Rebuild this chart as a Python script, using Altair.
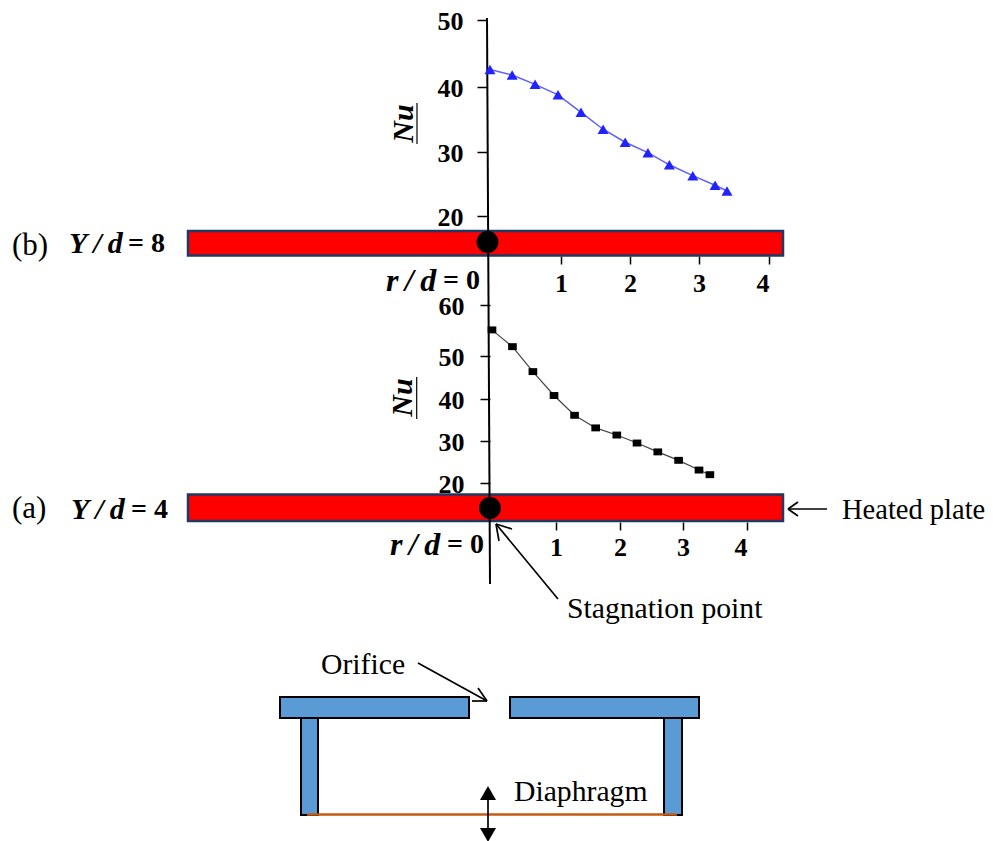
import altair as alt
import pandas as pd

# ---------- measured values ----------
rd_b = [0.04, 0.34, 0.65, 0.96, 1.29, 1.61, 1.93, 2.26, 2.57, 2.91, 3.23, 3.40]
nu_b = [42.6, 41.8, 40.4, 38.8, 36.1, 33.5, 31.5, 29.9, 28.0, 26.3, 24.8, 23.9]
rd_a = [0.03, 0.34, 0.65, 0.97, 1.29, 1.62, 1.95, 2.27, 2.60, 2.93, 3.25, 3.42]
nu_a = [55.1, 51.8, 46.3, 40.7, 36.0, 33.0, 31.3, 29.4, 27.3, 25.3, 23.0, 21.9]
ticks_x = [1, 2, 3, 4]
ticks_yb = [20, 30, 40, 50]
ticks_ya = [20, 30, 40, 50, 60]

W, H = 977, 833
SERIF = "Liberation Serif"
CX = alt.Scale(domain=[8, 8 + W], range=[0, W])
CY = alt.Scale(domain=[8, 8 + H], range=[0, H])
THIN = "\u2009"


def cx(f="x"):
    return alt.X(f"{f}:Q", scale=CX, axis=None)


def cy(f="y"):
    return alt.Y(f"{f}:Q", scale=CY, axis=None)


def boxes(rows, fill, stroke, sw):
    df = pd.DataFrame(rows, columns=["x", "x2", "y", "y2"])
    return alt.Chart(df).mark_rect(fill=fill, stroke=stroke, strokeWidth=sw).encode(
        x=cx(), x2="x2:Q", y=cy(), y2="y2:Q")


def segs(rows, color="black", sw=1.5):
    df = pd.DataFrame(rows, columns=["x", "y", "x2", "y2"])
    return alt.Chart(df).mark_rule(color=color, strokeWidth=sw).encode(
        x=cx(), x2="x2:Q", y=cy(), y2="y2:Q")


def labels(rows, size, weight="normal", style="normal"):
    df = pd.DataFrame(rows, columns=["t", "x", "y"])
    return alt.Chart(df).mark_text(font=SERIF, fontSize=size, fontWeight=weight, fontStyle=style,
                                   align="left", baseline="middle", color="black").encode(
        x=cx(), y=cy(), text="t:N")


def panel(rd, nu, xdom, xrange, ydom, yrange, yticks, axis_x, axis_y, x_pad, y_pad, title_x, title_y,
          color, line_color, line_w, shape, size):
    df = pd.DataFrame({"rd": rd, "nu": nu})
    xs = alt.Scale(domain=xdom, range=[v - 8 for v in xrange])
    ys = alt.Scale(domain=ydom, range=[v - 8 for v in yrange])
    line = alt.Chart(df).mark_line(color=line_color, strokeWidth=line_w).encode(
        x=alt.X("rd:Q", scale=xs, axis=None), y=alt.Y("nu:Q", scale=ys, axis=None))
    pts = alt.Chart(df).mark_point(shape=shape, filled=True, color=color, size=size, opacity=1, strokeWidth=0).encode(
        x=alt.X("rd:Q", scale=xs, title=None, axis=alt.Axis(
            orient="bottom", values=ticks_x, format="d", domain=False, grid=False, offset=axis_y - 8 - H,
            tickColor="black", tickWidth=1.5, tickSize=8,
            labelFont=SERIF, labelFontSize=26, labelFontWeight="bold", labelColor="black", labelPadding=x_pad)),
        y=alt.Y("nu:Q", scale=ys, title="Nu", axis=alt.Axis(
            orient="left", values=yticks, format="d", domain=False, grid=False, offset=-(axis_x - 8),
            tickColor="black", tickWidth=1.5, tickSize=10,
            labelFont=SERIF, labelFontSize=26, labelFontWeight="bold", labelColor="black", labelPadding=y_pad,
            labelOffset=1.5,
            titleFont=SERIF, titleFontSize=30, titleFontWeight="bold", titleFontStyle="italic", titleColor="black",
            titleX=title_x - axis_x, titleY=title_y - 8, titleAnchor="middle", titleBaseline="middle")))
    return [line, pts]


layers = []
# heated plates
layers.append(boxes([[188, 783, 231, 255.5], [188, 783, 494.5, 521]], "#FF0000", "#1F3864", 2.5))
# vertical axis line through both panels
layers.append(segs([[487, 18, 490, 584]], "black", 2))
# stagnation markers
circ = pd.DataFrame({"x": [487.5, 490], "y": [242, 508]})
layers.append(alt.Chart(circ).mark_point(shape="circle", filled=True, color="black", size=480, opacity=1).encode(x=cx(), y=cy()))
# data panels
layers += panel(rd_b, nu_b, [0, 1, 2, 3, 4], [487, 561, 630, 699, 769], [20, 30, 40, 50], [216, 152, 87, 20],
                ticks_yb, 487, 256, 6, 14, 403, 123,
                "#2222FF", "#6060FF", 1.5, "triangle-up", 121)
layers += panel(rd_a, nu_a, [0, 1, 2, 3, 4], [490, 556, 620, 683, 747], [20, 30, 40, 50, 60],
                [482.7, 440.5, 398.5, 355.8, 305], ticks_ya, 490, 522, 4, 16, 402, 397,
                "black", "#444444", 1.2, "M-1,-0.8H1V0.8H-1Z", 75)
# Nu underlines
layers.append(segs([[417, 103, 417, 144], [416.7, 377, 416.7, 419]], "black", 1.2))
# orifice plate
layers.append(boxes([[301, 318, 717, 815], [664, 682, 717, 815]], "#5B9BD5", "black", 2))
layers.append(boxes([[280, 469, 697, 718], [510, 699, 697, 718]], "#5B9BD5", "black", 2))
layers.append(segs([[307, 814.5, 677, 814.5]], "#C55A11", 2.5))
# arrows
layers.append(segs([
    [827, 509, 788, 509], [788, 509, 798, 502], [788, 509, 798, 516],
    [558, 599, 496, 524], [496, 524, 499, 541], [496, 524, 512, 529],
    [418, 663, 487, 701], [487, 701, 472, 701], [487, 701, 478, 688],
    [488, 795, 488, 835],
], "black", 1.7))
up = pd.DataFrame({"x": [488], "y": [793]})
dn = pd.DataFrame({"x": [488], "y": [835]})
layers.append(alt.Chart(up).mark_point(shape="triangle-up", filled=True, color="black", size=256, opacity=1).encode(x=cx(), y=cy()))
layers.append(alt.Chart(dn).mark_point(shape="triangle-down", filled=True, color="black", size=256, opacity=1).encode(x=cx(), y=cy()))
# text
layers.append(labels([["(b)", 12, 246], ["(a)", 12, 509]], 31))
layers.append(labels([[f"Y{THIN}/{THIN}d", 69, 244], [f"Y{THIN}/{THIN}d", 71, 510]], 30, "bold", "italic"))
layers.append(labels([["= 8", 128, 244], ["= 4", 131, 510]], 28, "bold"))
layers.append(labels([[f"r{THIN}/{THIN}d", 386, 281], [f"r{THIN}/{THIN}d", 390, 545]], 32, "bold", "italic"))
layers.append(labels([["= 0", 443, 281], ["= 0", 447, 545]], 28, "bold"))
layers.append(labels([["Orifice", 321, 665], ["Diaphragm", 514, 792], ["Stagnation point", 567, 609]], 29.7))
layers.append(labels([["Heated plate", 842, 510]], 28.5))

chart = alt.layer(*layers).resolve_scale(x="independent", y="independent").properties(
    width=W, height=H, padding=0, autosize=alt.AutoSizeParams(type="none"), background="white"
).configure_view(stroke=None)

chart.save("out.html", embed_options={"renderer": "svg", "actions": False})
